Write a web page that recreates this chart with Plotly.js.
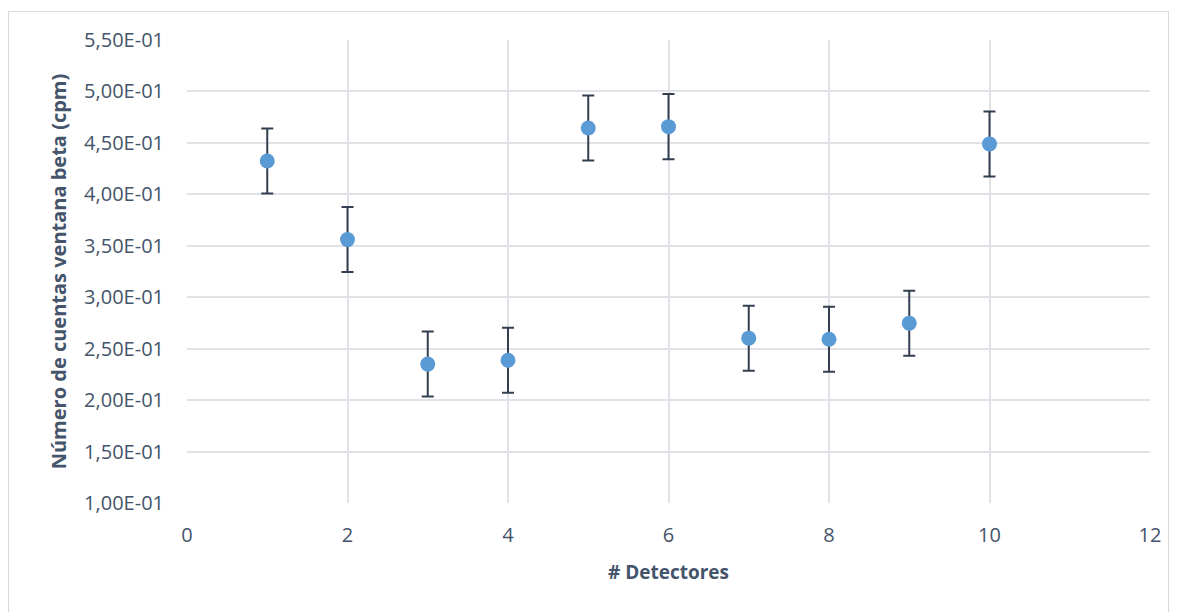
<!DOCTYPE html>
<html>
<head>
<meta charset="utf-8">
<script src="https://cdn.plot.ly/plotly-3.0.1.min.js"></script>
<style>
html,body{margin:0;padding:0;background:#fff;}
#wrap{position:relative;width:1178px;height:612px;}
#chart{position:absolute;left:0;top:0;width:1178px;height:612px;}
#frame{position:absolute;left:8px;top:11px;width:1159px;height:620px;border:1px solid #d9d9d9;pointer-events:none;}
</style>
</head>
<body>
<div id="wrap"><div id="chart"></div><div id="frame"></div></div>
<script>
const detectors = [1, 2, 3, 4, 5, 6, 7, 8, 9, 10];
const counts = [0.4324, 0.3560, 0.2350, 0.2388, 0.4645, 0.4658, 0.2602, 0.2592, 0.2748, 0.4490];
const errors = [0.0316, 0.0316, 0.0316, 0.0316, 0.0316, 0.0316, 0.0316, 0.0316, 0.0316, 0.0316];
const yTickVals = [0.10, 0.15, 0.20, 0.25, 0.30, 0.35, 0.40, 0.45, 0.50, 0.55];
const yTickText = ["1,00E-01","1,50E-01","2,00E-01","2,50E-01","3,00E-01","3,50E-01","4,00E-01","4,50E-01","5,00E-01","5,50E-01"];
const xTickVals = [0, 2, 4, 6, 8, 10, 12];

const textColor = '#44546a';
const gridColor = '#dfe2e7';

const trace = {
  x: detectors,
  y: counts,
  type: 'scatter',
  mode: 'markers',
  marker: {color: '#5b9bd5', size: 15, line: {width: 0}},
  error_y: {type: 'data', array: errors, visible: true, color: '#333f50', thickness: 2, width: 6},
  hoverinfo: 'x+y'
};

const layout = {
  width: 1178, height: 612,
  margin: {l: 187, r: 28, t: 40, b: 109},
  paper_bgcolor: '#ffffff', plot_bgcolor: '#ffffff',
  showlegend: false,
  font: {family: 'Open Sans, sans-serif', color: textColor},
  xaxis: {
    range: [0, 12], tickvals: xTickVals, ticktext: xTickVals.map(String),
    showgrid: true, gridcolor: gridColor, gridwidth: 2,
    zeroline: false, showline: false, ticks: '',
    ticklabelstandoff: 18,
    tickfont: {size: 20, color: textColor},
    automargin: false,
    title: {text: '# Detectores', font: {size: 19, color: textColor, weight: 'bold'}, standoff: 18}
  },
  yaxis: {
    range: [0.10, 0.55], tickvals: yTickVals, ticktext: yTickText,
    showgrid: true, gridcolor: gridColor, gridwidth: 2,
    zeroline: false, showline: false, ticks: '',
    ticklabelstandoff: 22,
    tickfont: {size: 20, color: textColor},
    automargin: false,
    title: {text: 'Número de cuentas ventana beta (cpm)', font: {size: 20, color: textColor, weight: 'bold'}, standoff: 12}
  }
};

Plotly.newPlot('chart', [trace], layout, {displayModeBar: false, staticPlot: true});
</script>
</body>
</html>
